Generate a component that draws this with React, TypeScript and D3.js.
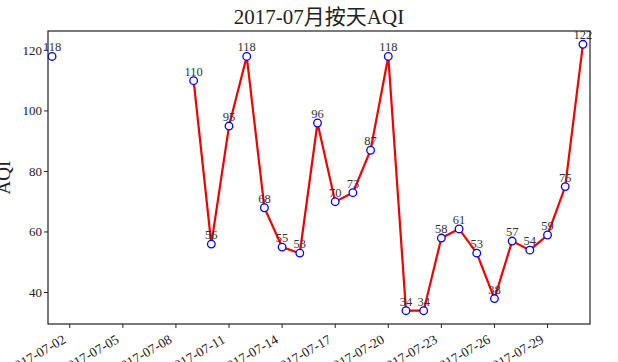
import React from "react";
import * as d3 from "d3";

const days: number[] = [1, 9, 10, 11, 12, 13, 14, 15, 16, 17, 18, 19, 20, 21, 22, 23, 24, 25, 26, 27, 28, 29, 30, 31];
const aqi: number[] = [118, 110, 56, 95, 118, 68, 55, 53, 96, 70, 73, 87, 118, 34, 34, 58, 61, 53, 38, 57, 54, 59, 75, 122];
const xTickDays: number[] = [2, 5, 8, 11, 14, 17, 20, 23, 26, 29];
const yTicks: number[] = [40, 60, 80, 100, 120];
const title = "2017-07月按天AQI";
const yLabel = "AQI";

const W = 618, H = 362;
const L = 48, R = 590, T = 31, B = 324;
const FONT = "'Liberation Serif', 'Noto Sans CJK SC', serif";

type P = { d: number; v: number };

export default function App() {
  const x = d3.scaleLinear().domain([0.77, 31.4]).range([L, R]);
  const y = d3.scaleLinear().domain([29.6, 126.4]).range([B, T]);
  const pts: P[] = days.map((d, i) => ({ d, v: aqi[i] }));
  const segs: P[][] = [];
  let cur: P[] = [];
  pts.forEach((p, i) => {
    if (i > 0 && p.d - pts[i - 1].d > 1) { segs.push(cur); cur = []; }
    cur.push(p);
  });
  segs.push(cur);
  const line = d3.line<P>().x(p => x(p.d)).y(p => y(p.v));
  const pad = (n: number) => (n < 10 ? "0" + n : "" + n);
  return (
    <svg width={W} height={H} style={{ position: "absolute", left: 0, top: 0, background: "#fff" }} fontFamily={FONT}>
      <rect x={0} y={0} width={W} height={H} fill="#fff" />
      <text x={(L + R) / 2} y={24} textAnchor="middle" fontSize={21} fill="#222">{title}</text>
      <text transform={`translate(10,${(T + B) / 2}) rotate(-90)`} textAnchor="middle" fontSize={19} fill="#222">{yLabel}</text>
      {yTicks.map(t => (
        <g key={t}>
          <line x1={L - 4} x2={L} y1={y(t)} y2={y(t)} stroke="#222" />
          <text x={L - 6} y={y(t) + 4.5} textAnchor="end" fontSize={13} fill="#222">{t}</text>
        </g>
      ))}
      {xTickDays.map(t => (
        <g key={t}>
          <line x1={x(t)} x2={x(t)} y1={B} y2={B + 4} stroke="#222" />
          <text transform={`translate(${x(t) - 3},${B + 18}) rotate(-30)`} textAnchor="end" fontSize={13.5} fill="#222">{`2017-07-${pad(t)}`}</text>
        </g>
      ))}
      {segs.filter(s => s.length > 1).map((s, i) => (
        <path key={i} d={line(s) || ""} fill="none" stroke="#ee0000" strokeWidth={2.2} />
      ))}
      {pts.map(p => (
        <circle key={p.d} cx={x(p.d)} cy={y(p.v)} r={3.8} fill="#fff" stroke="#0000ee" strokeWidth={1.3} />
      ))}
      {pts.map(p => (
        <text key={"l" + p.d} x={x(p.d)} y={y(p.v) - 5} textAnchor="middle" fontSize={12.5} fill="#333">{p.v}</text>
      ))}
      <rect x={L} y={T} width={R - L} height={B - T} fill="none" stroke="#222" strokeWidth={1.2} />
    </svg>
  );
}
